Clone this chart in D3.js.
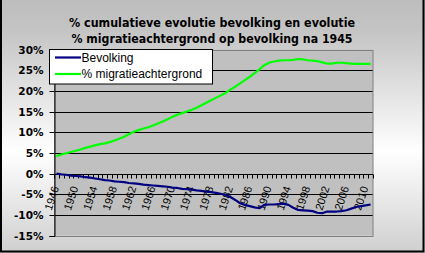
<!DOCTYPE html>
<html><head><meta charset="utf-8">
<script src="https://cdn.jsdelivr.net/npm/d3@7"></script>
<style>body{margin:0;padding:0;overflow:hidden}svg{display:block}</style>
</head><body>
<script>
const years = d3.range(1946, 2012);
const bevolking = [0,-0.2,-0.3,-0.5,-0.6,-0.7,-0.9,-1.0,-1.2,-1.4,-1.6,-1.7,-1.9,-2.0,-2.1,-2.3,-2.4,-2.5,-2.7,-2.8,-2.9,-3.0,-3.1,-3.2,-3.4,-3.5,-3.7,-3.8,-3.9,-4.1,-4.2,-4.4,-4.5,-4.7,-4.9,-5.2,-5.7,-6.4,-7.2,-7.6,-7.9,-8.2,-8.4,-7.6,-7.5,-7.5,-7.4,-7.3,-7.6,-8.3,-8.8,-8.9,-9.0,-9.1,-9.5,-9.6,-9.2,-9.2,-9.2,-9.1,-8.9,-8.5,-8.1,-7.9,-7.7,-7.5];
const migratie = [4.2,4.6,4.9,5.2,5.5,5.8,6.2,6.5,6.8,7.1,7.3,7.6,8.0,8.4,8.9,9.5,10.1,10.5,10.9,11.2,11.6,12.1,12.6,13.1,13.7,14.2,14.6,15.0,15.4,15.9,16.5,17.1,17.7,18.3,18.9,19.5,20.3,21.0,21.8,22.6,23.4,24.3,25.2,26.2,26.8,27.1,27.3,27.4,27.4,27.5,27.7,27.6,27.4,27.3,27.2,26.9,26.6,26.6,26.8,26.8,26.7,26.6,26.5,26.5,26.5,26.5];
const yTicks = [-15,-10,-5,0,5,10,15,20,25,30];
const xLabelYears = d3.range(1946, 2012, 4);
const titleLines = ["% cumulatieve evolutie bevolking en evolutie", "% migratieachtergrond op bevolking na 1945"];
const seriesNames = ["Bevolking", "% migratieachtergrond"];
const seriesColors = ["#000080", "#00ff00"];

const W = 425, H = 253;
const svg = d3.select("body").append("svg").attr("width", W).attr("height", H);
const defs = svg.append("defs");
const g = defs.append("linearGradient").attr("id","bg").attr("x1",0).attr("y1",0).attr("x2",0).attr("y2",1);
g.append("stop").attr("offset","0").attr("stop-color","#bdbdbd");
g.append("stop").attr("offset","0.12").attr("stop-color","#c4c4c4");
g.append("stop").attr("offset","0.6").attr("stop-color","#ffffff");
g.append("stop").attr("offset","1").attr("stop-color","#cfcfcf");
svg.append("rect").attr("x",0).attr("y",0).attr("width",W).attr("height",H).attr("fill","url(#bg)");
svg.append("path").attr("d",`M1,0V${H-1.5}H${W-1.5}V0`).attr("fill","none").attr("stroke","#000").attr("stroke-width",2);

const L = 54, R = 373, T = 49.5, B = 235.5;
const x = d3.scaleBand().domain(years).range([L, R]);
const y = d3.scaleLinear().domain([-15, 30]).range([B, T]);

svg.append("rect").attr("x",L).attr("y",T).attr("width",R-L).attr("height",B-T).attr("fill","#c0c0c0");
svg.append("g").selectAll("line").data(yTicks.filter(v => v>-15 && v<30)).join("line")
  .attr("x1",L).attr("x2",R).attr("y1",d=>Math.round(y(d))+0.5).attr("y2",d=>Math.round(y(d))+0.5)
  .attr("stroke","#000").attr("stroke-width",1);
svg.append("rect").attr("x",L+0.5).attr("y",Math.round(T)+0.5).attr("width",R-L-0.5).attr("height",Math.round(B)-Math.round(T))
  .attr("fill","none").attr("stroke","#808080");

const yAxis = d3.axisLeft(y).tickValues(yTicks).tickFormat(d => d + "%").tickSize(5).tickPadding(6);
const ya = svg.append("g").attr("transform",`translate(${L+0.5},0.5)`).call(yAxis);
ya.select(".domain").attr("stroke","#000");
ya.selectAll(".tick line").attr("stroke","#000");
ya.selectAll("text").attr("font-family","'DejaVu Sans', Verdana, sans-serif").attr("font-weight","bold").attr("font-size","10.5px").attr("fill","#000")
  .attr("y", 0).attr("dy","0.35em");
ya.selectAll(".tick").attr("transform", d => `translate(0,${Math.round(y(d))})`);

const y0 = Math.round(y(0)) + 0.5;
const bounds = years.map(d => x(d)).concat([R]);
svg.append("g").selectAll("line").data(bounds).join("line")
  .attr("x1",d=>Math.round(d)+0.5).attr("x2",d=>Math.round(d)+0.5).attr("y1",y0).attr("y2",y0+4)
  .attr("stroke","#000");
svg.append("line").attr("x1",L).attr("x2",R).attr("y1",y0).attr("y2",y0).attr("stroke","#000");

svg.append("g").selectAll("text").data(xLabelYears).join("text")
  .attr("transform", d => `translate(${x(d)+x.bandwidth()/2 - 1},${y0+12}) rotate(-72)`)
  .attr("text-anchor","end").attr("dy","0.35em")
  .attr("font-family","'Liberation Sans', Arial, sans-serif").attr("font-size","11px").attr("fill","#000")
  .text(d => d);

const series = [bevolking, migratie];
const line = d3.line().x((d,i) => x(years[i]) + x.bandwidth()/2).y(d => y(d));
series.forEach((s, k) => {
  svg.append("path").datum(s).attr("d", line).attr("fill","none")
    .attr("stroke", seriesColors[k]).attr("stroke-width", 2.2).attr("stroke-linejoin","round");
});

const lg = svg.append("g");
lg.append("rect").attr("x",49.5).attr("y",49.5).attr("width",163).attr("height",34.5).attr("fill","#fff").attr("stroke","#000");
seriesNames.forEach((n, k) => {
  const cy = 57.5 + k*16.5;
  lg.append("line").attr("x1",55).attr("x2",81).attr("y1",cy).attr("y2",cy).attr("stroke",seriesColors[k]).attr("stroke-width",2.2);
  lg.append("text").attr("x",81.5).attr("y",cy).attr("dy","0.36em")
    .attr("font-family","'Liberation Sans', Arial, sans-serif").attr("font-size","12px").attr("fill","#000").text(n);
});

titleLines.forEach((t, i) => {
  svg.append("text").attr("x",212).attr("y",27 + i*16).attr("text-anchor","middle")
    .attr("font-family","'DejaVu Sans', Verdana, sans-serif").attr("font-weight","bold").attr("font-size","12px")
    .attr("textLength", i===0 ? 286 : 281).attr("lengthAdjust","spacingAndGlyphs")
    .attr("fill","#000").text(t);
});
</script>
</body></html>
